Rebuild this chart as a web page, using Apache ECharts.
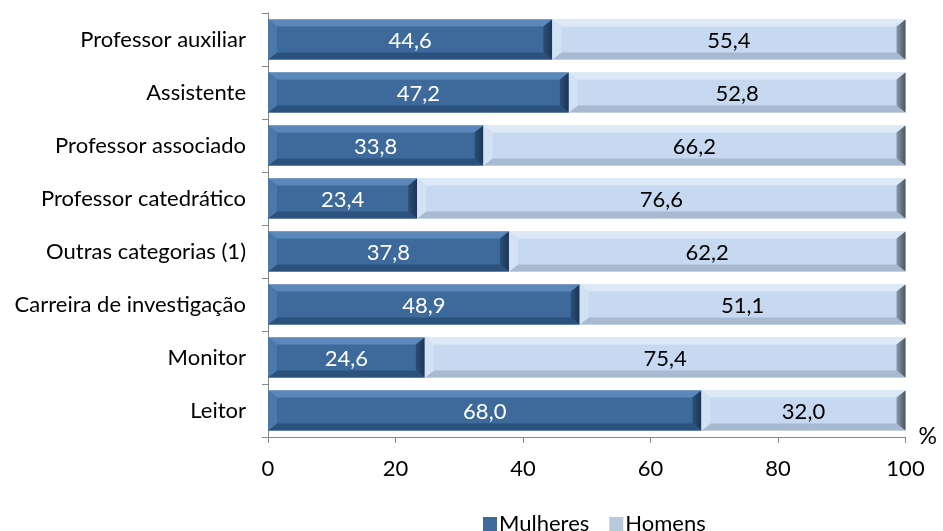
<!DOCTYPE html>
<html>
<head>
<meta charset="utf-8">
<script src="https://cdn.jsdelivr.net/npm/echarts@6/dist/echarts.min.js"></script>
<style>
html,body{margin:0;padding:0;background:#fff;}
#chart{width:943px;height:531px;}
</style>
</head>
<body>
<div id="chart"></div>
<script>
var categories = ['Professor auxiliar','Assistente','Professor associado','Professor catedrático','Outras categorias (1)','Carreira de investigação','Monitor','Leitor'];
var mulheres = [44.6, 47.2, 33.8, 23.4, 37.8, 48.9, 24.6, 68.0];
var homens = [55.4, 52.8, 66.2, 76.6, 62.2, 51.1, 75.4, 32.0];
var xTicks = [0, 20, 40, 60, 80, 100];
var seriesNames = ['Mulheres', 'Homens'];

var FONT = 'Lato';
var FS = 22;

function fmt(v){ return v.toFixed(1).replace('.', ','); }

var mData = mulheres.map(function(v, i){ return [i, 0, v, v]; });
var hData = homens.map(function(v, i){ return [i, mulheres[i], mulheres[i] + v, v]; });

var styles = {
  Mulheres: {fill:'#3d6a9b', top:'#5b87ba', bottom:'#2b527c', left:'#4a78aa', right:['#2c4f78','#1c3553'], text:'#ffffff'},
  Homens: {fill:'#c6d9f0', top:'#dde9f7', bottom:'#a7bad2', left:'#d2e1f3', right:['#8d9aab','#48535f'], text:'#000000'}
};

function makeRender(name){
  var st = styles[name];
  return function(params, api){
    var idx = api.value(0);
    var p0 = api.coord([api.value(1), idx]);
    var p1 = api.coord([api.value(2), idx]);
    var h = 40;
    var x0 = p0[0], x1 = p1[0];
    var y0 = p0[1] - h/2, y1 = p0[1] + h/2;
    var b = 9, bv = 7;
    var children = [
      {type:'rect', shape:{x:x0, y:y0, width:x1-x0, height:h}, style:{fill:st.fill}},
      {type:'polygon', shape:{points:[[x0,y0],[x1,y0],[x1-b,y0+bv],[x0+b,y0+bv]]}, style:{fill:st.top}},
      {type:'polygon', shape:{points:[[x0,y1],[x1,y1],[x1-b,y1-bv],[x0+b,y1-bv]]}, style:{fill:st.bottom}},
      {type:'polygon', shape:{points:[[x0,y0],[x0+b,y0+bv],[x0+b,y1-bv],[x0,y1]]}, style:{fill:st.left}},
      {type:'polygon', shape:{points:[[x1,y0],[x1-b,y0+bv],[x1-b,y1-bv],[x1,y1]]}, style:{fill:new echarts.graphic.LinearGradient(0,0,1,0,[{offset:0,color:st.right[0]},{offset:1,color:st.right[1]}])}},
      {type:'text', style:{text:fmt(api.value(3)), x:(x0+x1)/2, y:p0[1]+1, align:'center', verticalAlign:'middle', fill:st.text, font:FS+'px '+FONT}}
    ];
    return {type:'group', children:children};
  };
}

var chart = echarts.init(document.getElementById('chart'));
chart.setOption({
  animation:false,
  textStyle:{fontFamily:FONT},
  grid:{left:268, right:37.5, top:13, bottom:94, containLabel:false},
  legend:{
    data:seriesNames, left:478, top:508, itemWidth:14, itemHeight:14, itemGap:20,
    icon:'rect',
    textStyle:{fontFamily:FONT, fontSize:FS, color:'#000', padding:[0,0,0,-3]}
  },
  xAxis:{
    type:'value', min:xTicks[0], max:xTicks[xTicks.length-1], interval:20,
    axisLine:{show:true, lineStyle:{color:'#868686', width:1}},
    axisTick:{show:true, length:6, lineStyle:{color:'#868686'}},
    splitLine:{show:false},
    axisLabel:{fontFamily:FONT, fontSize:FS, color:'#000', margin:21},
    name:'%', nameLocation:'end', nameGap:13,
    nameTextStyle:{fontFamily:FONT, fontSize:FS+1, color:'#000', verticalAlign:'middle', padding:[0,0,16,0]}
  },
  yAxis:{
    type:'category', data:categories, inverse:true,
    axisLine:{show:true, lineStyle:{color:'#868686', width:1}},
    axisTick:{show:true, length:6, lineStyle:{color:'#868686'}},
    axisLabel:{fontFamily:FONT, fontSize:FS, color:'#000', margin:22}
  },
  series:[
    {name:'Mulheres', type:'custom', renderItem:makeRender('Mulheres'), itemStyle:{color:'#3d6a9b'}, encode:{x:[1,2], y:0}, data:mData},
    {name:'Homens', type:'custom', renderItem:makeRender('Homens'), itemStyle:{color:'#b8c9de'}, encode:{x:[1,2], y:0}, data:hData}
  ]
});
</script>
</body>
</html>
